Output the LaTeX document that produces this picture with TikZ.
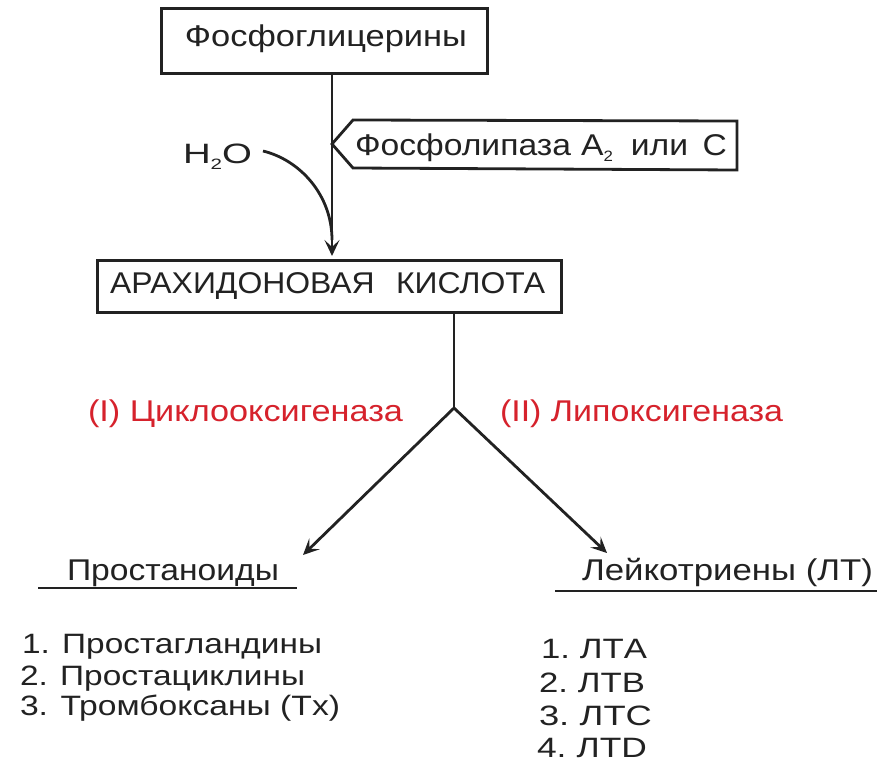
\documentclass[tikz,border=0pt]{standalone}
\usepackage{fontspec}
\usepackage{graphicx}
\setmainfont{Liberation Sans}
\usetikzlibrary{arrows.meta}
\definecolor{ink}{HTML}{222222}
\definecolor{enz}{RGB}{214,34,44}
\newcommand{\fitw}[2]{\resizebox{#1pt}{\height}{#2}}
\newcommand{\sbs}[1]{\raisebox{-6pt}{\fontsize{15}{15}\selectfont #1}}
\begin{document}
\begin{tikzpicture}[x=1pt,y=-1pt,
  every node/.style={inner sep=0pt, outer sep=0pt, text=ink},
  box/.style={draw=ink, line width=3pt, fill=white},
  big/.style={font=\fontsize{30}{34}\selectfont},
  mid/.style={font=\fontsize{28}{32}\selectfont},
  enzlabel/.style={font=\fontsize{30}{34}\selectfont, text=enz},
  conn/.style={draw=ink, line width=2.8pt},
  arr/.style={conn, -{Stealth[length=16pt,width=15pt,inset=7pt]}},
  uline/.style={draw=ink, line width=2.8pt}
]
\useasboundingbox (0,0) rectangle (883,768);
\fill[white] (0,0) rectangle (883,768);

% top box
\node[box, minimum width=326pt, minimum height=64pt] (fg) at (324,41) {};
\node[big, anchor=base] (fgt) at (326,47) {\fitw{282}{Фосфоглицерины}};

% second box
\node[box, minimum width=464pt, minimum height=52pt] (ak) at (329,286) {};
\node[big, anchor=base] (akt) at (327.5,293) {\fitw{435}{АРАХИДОНОВАЯ\hspace{20pt}КИСЛОТА}};

% main vertical arrow
\coordinate (vx) at (332,0);
\coordinate (vend) at (332,256);
\draw[arr] (fg.south -| vx) -- (vend);

% enzyme tag
\coordinate (tip) at (332,144);
\draw[ink, line width=2.8pt, line join=miter] (tip) -- (353,120) -- (737,121) -- (737,170) -- (353,168) -- cycle;
\node[big, anchor=base] (pl) at (541,155) {\fitw{372}{Фосфолипаза\hspace{9pt}A\sbs{2}\hspace{16pt}или\hspace{13pt}C}};

% water
\node[mid, anchor=base west] (h2o) at (183,163) {\fitw{69}{H\sbs{2}O}};
\coordinate (cs) at (263,151);
\coordinate (ce) at (332,240);
\draw[conn] (cs) .. controls (300,160) and (332,195) .. (ce);

% fork
\coordinate (fork) at (454,408);
\draw[conn] (ak.south -| fork) -- (fork);
\coordinate (tipL) at (303,555);
\coordinate (tipR) at (607,553);
\draw[arr] (fork) -- (tipL);
\draw[arr] (fork) -- (tipR);

% enzyme labels
\node[enzlabel, anchor=base west] (cox) at (88,421) {\fitw{315}{(I) Циклооксигеназа}};
\node[enzlabel, anchor=base west] (lox) at (500,421) {\fitw{283}{(II) Липоксигеназа}};

% products
\node[big, anchor=base west] (pros) at (67,580) {\fitw{212}{Простаноиды}};
\draw[uline] (38,588) -- (297,588);
\node[big, anchor=base west] (leuk) at (582,580) {\fitw{291}{Лейкотриены (ЛТ)}};
\draw[uline] (555,591) -- (877,591);

% lists
\node[mid, anchor=base west] (p1) at (22,653) {\fitw{300}{1. Простагландины}};
\node[mid, anchor=base west] (p2) at (20,685) {\fitw{285}{2. Простациклины}};
\node[mid, anchor=base west] (p3) at (20,715) {\fitw{320}{3. Тромбоксаны (Tx)}};

\node[mid, anchor=base west] (l1) at (541,658) {\fitw{106}{1.\hspace{8pt}ЛТA}};
\node[mid, anchor=base west] (l2) at (539,692) {\fitw{106}{2.\hspace{8pt}ЛТB}};
\node[mid, anchor=base west] (l3) at (539,725) {\fitw{113}{3.\hspace{8pt}ЛТC}};
\node[mid, anchor=base west] (l4) at (537,757) {\fitw{110}{4.\hspace{8pt}ЛТD}};
\end{tikzpicture}
\end{document}
